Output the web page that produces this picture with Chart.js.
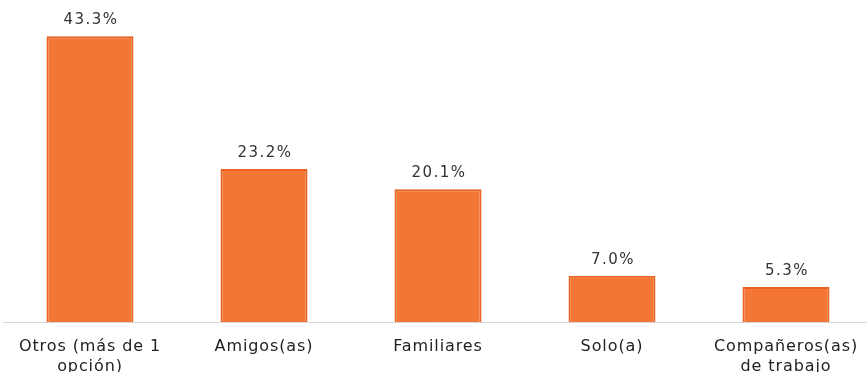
<!DOCTYPE html>
<html>
<head>
<meta charset="utf-8">
<script src="https://cdn.jsdelivr.net/npm/chart.js@4/dist/chart.umd.min.js"></script>
<style>
  html, body { margin: 0; padding: 0; background: #fff; overflow: hidden; }
  #wrap { position: relative; width: 873px; height: 372px; }
</style>
</head>
<body>
<div id="wrap"><canvas id="chart"></canvas></div>
<script>
// categories and shares (%)
const categories = [
  ['Otros (más de 1', 'opción)'],
  'Amigos(as)',
  'Familiares',
  'Solo(a)',
  ['Compañeros(as)', 'de trabajo']
];
const shares = [43.3, 23.2, 20.1, 7.0, 5.3];

// draws the percentage above each bar
const valueLabels = {
  id: 'valueLabels',
  afterDatasetsDraw(chart) {
    const ctx = chart.ctx;
    const meta = chart.getDatasetMeta(0);
    ctx.save();
    ctx.font = '15px "DejaVu Sans"';
    ctx.fillStyle = '#333';
    ctx.textAlign = 'center';
    ctx.textBaseline = 'middle';
    ctx.letterSpacing = '1.5px';
    meta.data.forEach((bar, i) => {
      ctx.fillText(shares[i].toFixed(1) + '%', bar.x + 1, bar.y - 16);
    });
    ctx.restore();
  }
};

// slightly wider text everywhere
const spacing = {
  id: 'spacing',
  beforeDraw(chart) { chart.ctx.letterSpacing = '0.9px'; }
};

new Chart(document.getElementById('chart'), {
  type: 'bar',
  data: {
    labels: categories,
    datasets: [{
      data: shares,
      backgroundColor: '#F37636',
      borderColor: '#E9621F',
      borderWidth: 2,
      categoryPercentage: 1,
      barPercentage: 0.5
    }]
  },
  options: {
    responsive: true,
    maintainAspectRatio: false,
    animation: false,
    layout: { padding: { top: 0, left: 3, right: 0, bottom: 0 } },
    plugins: {
      legend: { display: false },
      tooltip: { enabled: false }
    },
    scales: {
      x: {
        grid: { display: false },
        border: { display: true, color: '#D6D6D6', width: 1 },
        ticks: {
          color: '#222',
          font: { family: '"DejaVu Sans"', size: 16, lineHeight: 1.25 },
          padding: 7,
          maxRotation: 0,
          autoSkip: false
        },
        afterFit(scale) { scale.height = 50; }
      },
      y: {
        display: false,
        min: 0,
        max: 48.8
      }
    }
  },
  plugins: [valueLabels, spacing]
});
</script>
</body>
</html>
